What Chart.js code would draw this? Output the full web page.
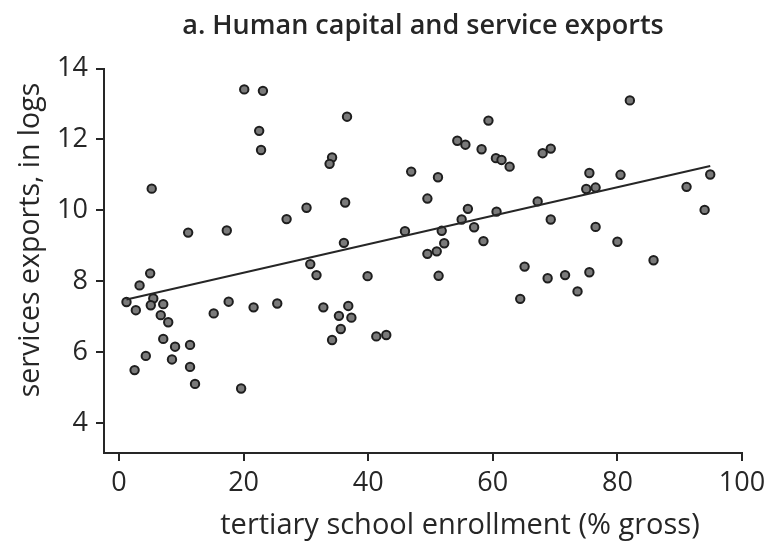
<!DOCTYPE html>
<html>
<head>
<meta charset="utf-8">
<title>Human capital and service exports</title>
<script src="https://cdn.jsdelivr.net/npm/chart.js@4/dist/chart.umd.min.js"></script>
<style>
  html, body { margin: 0; padding: 0; background: #ffffff; }
  #wrap { width: 773px; height: 543px; }
</style>
</head>
<body>
<div id="wrap"><canvas id="chart" width="773" height="543"></canvas></div>
<script>
// Tertiary school enrollment (% gross) for each country
const enrollment = [
  20.1, 23.1, 22.5, 22.8, 5.25, 11.1, 17.3, 26.9, 30.1, 36.6,
  34.2, 33.8, 46.9, 51.2, 49.5, 36.3, 36.1, 45.9, 51.8, 52.2,
  51.0, 49.5, 55.0, 56.0, 57.0, 58.5, 60.6, 54.3, 55.6, 58.2,
  59.3, 60.5, 61.4, 62.7, 82.0, 68.0, 69.3, 75.5, 80.5, 75.0,
  76.5, 67.2, 69.3, 76.5, 80.0, 91.1, 94.9, 94.0, 85.8, 5.0,
  3.3, 1.2, 2.7, 5.5, 5.1, 7.1, 6.7, 7.9, 7.1, 9.0,
  11.4, 4.3, 8.5, 2.5, 11.4, 12.2, 19.6, 15.2, 17.6, 21.6,
  25.4, 30.7, 31.7, 32.8, 39.9, 51.3, 36.8, 35.3, 37.3, 35.6,
  34.2, 41.3, 42.9, 64.4, 65.1, 68.8, 71.6, 75.5, 73.6
];

// Services exports, in logs, same country order
const serviceExports = [
  13.41, 13.37, 12.24, 11.70, 10.61, 9.37, 9.43, 9.75, 10.07, 12.64,
  11.49, 11.31, 11.09, 10.93, 10.33, 10.22, 9.08, 9.41, 9.42, 9.07,
  8.84, 8.77, 9.74, 10.04, 9.52, 9.13, 9.96, 11.96, 11.85, 11.72,
  12.53, 11.47, 11.42, 11.23, 13.10, 11.61, 11.74, 11.05, 11.00, 10.60,
  10.64, 10.25, 9.74, 9.53, 9.11, 10.66, 11.01, 10.01, 8.59, 8.22,
  7.88, 7.41, 7.18, 7.51, 7.32, 7.35, 7.04, 6.84, 6.37, 6.15,
  6.20, 5.89, 5.79, 5.49, 5.58, 5.10, 4.97, 7.09, 7.42, 7.26,
  7.37, 8.48, 8.17, 7.26, 8.14, 8.15, 7.30, 7.02, 6.97, 6.65,
  6.34, 6.44, 6.48, 7.50, 8.41, 8.08, 8.17, 8.25, 7.71
];

// Fitted line end points
const fitX = [1.2, 94.9];
const fitY = [7.48, 11.25];

// Tick labels
const xTicks = [0, 20, 40, 60, 80, 100];
const yTicks = [4, 6, 8, 10, 12, 14];

// Axis titles
const xTitle = 'tertiary school enrollment (% gross)';
const yTitle = 'services exports, in logs';

const ink = '#262626';
const family = "'Open Sans', 'DejaVu Sans', sans-serif";

const points = enrollment.map((x, i) => ({ x: x, y: serviceExports[i] }));
const fitPoints = fitX.map((x, i) => ({ x: x, y: fitY[i] }));

// Axis titles drawn by hand so they can sit off the axis centre
const axisTitles = {
  id: 'axisTitles',
  afterDraw(chart) {
    const ctx = chart.ctx;
    const area = chart.chartArea;
    ctx.save();
    ctx.fillStyle = ink;
    ctx.font = "400 29px " + family;
    ctx.textAlign = 'center';
    ctx.textBaseline = 'middle';
    ctx.fillText(xTitle, (area.left + area.right) / 2 + 37, 526);
    ctx.translate(31, 240);
    ctx.rotate(-Math.PI / 2);
    ctx.font = "400 28.5px " + family;
    ctx.fillText(yTitle, 0, 0);
    ctx.restore();
  }
};

new Chart(document.getElementById('chart'), {
  type: 'scatter',
  data: {
    datasets: [
      {
        type: 'line',
        data: fitPoints,
        borderColor: ink,
        borderWidth: 2,
        pointRadius: 0,
        fill: false
      },
      {
        data: points,
        pointRadius: 4.2,
        pointBackgroundColor: '#7a7a7a',
        pointBorderColor: '#1e1e1e',
        pointBorderWidth: 2
      }
    ]
  },
  plugins: [axisTitles],
  options: {
    responsive: false,
    animation: false,
    devicePixelRatio: 1,
    layout: { padding: { left: 0, right: 31, top: 0, bottom: 0 } },
    plugins: {
      legend: { display: false },
      tooltip: { enabled: false },
      title: {
        display: true,
        fullSize: false,
        text: 'a. Human capital and service exports',
        color: ink,
        font: { family: family, size: 27, weight: '600', lineHeight: 1.2 },
        padding: { top: 10, bottom: 26.1 }
      }
    },
    scales: {
      x: {
        type: 'linear',
        min: -2.41,
        max: 100,
        afterBuildTicks: (s) => { s.ticks = xTicks.map(v => ({ value: v })); },
        afterFit: (s) => { s.height = 90; },
        grid: { drawOnChartArea: false, drawTicks: true, tickLength: 8, color: ink, lineWidth: 2 },
        border: { display: true, color: ink, width: 2 },
        ticks: { color: ink, padding: 6, maxRotation: 0, font: { family: family, size: 27 } }
      },
      y: {
        type: 'linear',
        min: 3.15,
        max: 14,
        afterBuildTicks: (s) => { s.ticks = yTicks.map(v => ({ value: v })); },
        afterFit: (s) => { s.width = 104; },
        grid: { drawOnChartArea: false, drawTicks: true, tickLength: 8, color: ink, lineWidth: 2 },
        border: { display: true, color: ink, width: 2 },
        ticks: { color: ink, padding: 8, font: { family: family, size: 27 } }
      }
    }
  }
});
</script>
</body>
</html>
